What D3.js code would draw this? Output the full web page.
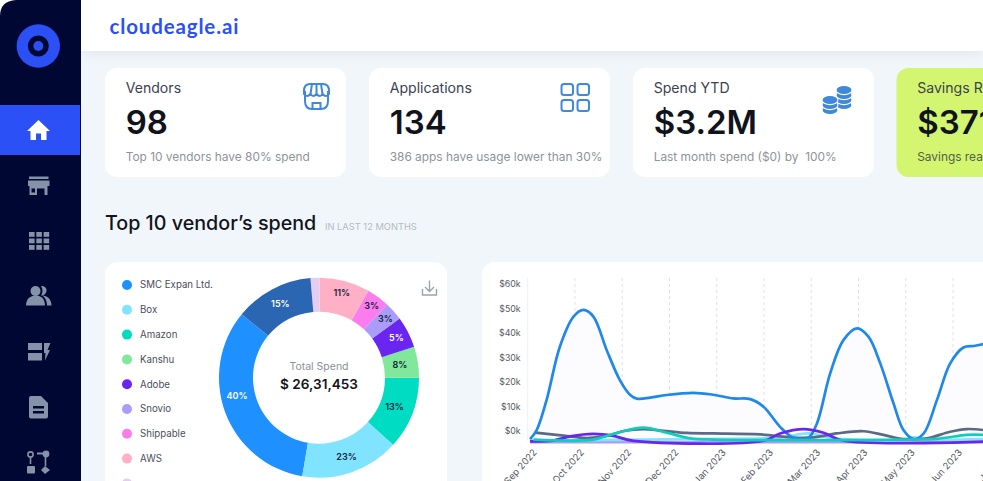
<!DOCTYPE html>
<html>
<head>
<meta charset="utf-8">
<script src="https://cdn.jsdelivr.net/npm/d3@7"></script>
<style>
  html, body { margin: 0; padding: 0; background: #fff; overflow: hidden; }
  svg { display: block; }
  text { font-family: Inter, "Noto Sans", sans-serif; }
</style>
</head>
<body>
<div id="chart"></div>
<script>
// Donut data
const vendorNames = ["SMC Expan Ltd.", "Box", "Amazon", "Kanshu", "Adobe", "Snovio", "Shippable", "AWS"];
const sliceShares = [33.3, 16, 11.7, 5, 5.1, 3, 3.7, 8.1, 1.5, 12.7];
const sliceLabels = ["40%", "23%", "13%", "8%", "5%", "3%", "3%", "11%", "", "15%"];
const sliceColors = ["#1e90ff", "#80e3ff", "#00dcc2", "#7fe89b", "#6a26f0", "#aa9cfa", "#fb7ced", "#ffb0c6", "#e4cdf0", "#2b66b3"];
const sliceTextColors = ["#fff", "#12233a", "#12233a", "#12233a", "#fff", "#12233a", "#12233a", "#12233a", "#12233a", "#fff"];

// Line chart data, x is position in months since Sep 2022
const monthLabels = ["Sep 2022", "Oct 2022", "Nov 2022", "Dec 2022", "Jan 2023", "Feb 2023", "Mar 2023", "Apr 2023", "May 2023", "Jun 2023", "Jul 2023"];
const yTicks = [0, 10000, 20000, 30000, 40000, 50000, 60000];
const blueX = [0.05, 0.19, 0.40, 0.68, 0.97, 1.18, 1.39, 1.67, 1.95, 2.17, 2.31, 2.59, 2.94, 3.51, 3.93, 4.35, 4.71, 4.99, 5.34, 5.62, 5.94, 6.12, 6.40, 6.68, 6.97, 7.21, 7.46, 7.74, 7.95, 8.17, 8.38, 8.66, 8.94, 9.22, 9.44, 9.64];
const blueY = [-3300, 400, 12700, 34400, 46700, 49400, 46700, 33100, 20800, 14700, 13200, 13600, 14700, 15600, 14800, 13300, 13000, 9900, 1700, -2700, -2700, 3100, 23500, 37100, 41900, 38500, 27600, 11300, 400, -3300, -1000, 12700, 27600, 34100, 34700, 35500];
const grayX = [0.16, 0.76, 1.25, 1.67, 2.03, 2.45, 2.87, 3.37, 3.93, 4.92, 5.62, 6.05, 6.54, 7.11, 7.53, 7.95, 8.45, 8.94, 9.29, 9.64];
const grayY = [-700, -1900, -2900, -2000, 0, 800, 100, -800, -1000, -1400, -2700, -2600, -1000, -100, -1600, -3300, -3000, -300, 800, 400];
const purpleX = [0.05, 0.54, 0.90, 1.39, 1.81, 2.24, 4.99, 5.34, 5.84, 6.26, 6.68, 9.64];
const purpleY = [-4200, -3900, -2200, -1200, -2000, -4000, -4000, -1000, 800, -700, -4000, -4300];
const tealX = [0.12, 1.39, 1.81, 2.45, 2.94, 3.44, 3.93, 7.95, 8.66, 9.29, 9.64];
const tealY = [-3500, -3500, -1200, 1400, -700, -3000, -3500, -3500, -3200, -1600, -1600];
const cyanX = [0.05, 3.44, 5.34, 5.94, 6.5, 7.95, 8.17, 8.4, 9.64];
const cyanY = [-3900, -3300, -2700, -1000, -3100, -3500, -2600, -3400, -3300];
const flatX = [0.05, 9.64];
const flatY = [-4500, -4500];

const svg = d3.select("#chart").append("svg")
    .attr("width", 983)
    .attr("height", 481);

// Background and frame
svg.append("rect").attr("x", 81).attr("y", 0).attr("width", 902).attr("height", 481).attr("fill", "#f1f6fa");
svg.append("rect").attr("x", 81).attr("y", 0).attr("width", 902).attr("height", 51)
    .attr("fill", "#fff").style("filter", "drop-shadow(0 3px 6px rgba(40,60,90,0.08))");
svg.append("path").attr("d", "M0,481V16Q0,1 16,0H81V481Z").attr("fill", "#000733");
svg.append("rect").attr("x", 0).attr("y", 105).attr("width", 80).attr("height", 50).attr("fill", "#2b50f5");

// Logo
svg.append("circle").attr("cx", 38.3).attr("cy", 46).attr("r", 21.7).attr("fill", "#2b50f5");
svg.append("circle").attr("cx", 38.3).attr("cy", 46).attr("r", 10.5).attr("fill", "#000733");
svg.append("circle").attr("cx", 38.3).attr("cy", 46).attr("r", 5).attr("fill", "#2b50f5");
svg.append("text").attr("x", 109.5).attr("y", 33.5).text("cloudeagle.ai")
    .style("font-family", "Lato").style("font-size", "20.5px").style("font-weight", 700)
    .style("letter-spacing", "0.85px").attr("fill", "#2b50f5");

// Side menu icons
const navColor = "#8493a8";
const nav = svg.append("g").attr("fill", navColor);
nav.append("path").attr("fill", "#fff").attr("d", "M38.5,120L50,131H46.5V140H41V133.5H36V140H30.5V131H27Z");
nav.append("path").attr("d", "M29,176.5H48.5V179H29ZM28,180.5H49.5L49.5,186H47.5V195H44.5V188.5H37V195H29.5V186H28ZM31.5,188.5H35V192.5H31.5Z").attr("fill-rule", "evenodd");
d3.range(9).forEach(i => nav.append("rect")
    .attr("x", 29 + (i % 3) * 7.3).attr("y", 232 + Math.floor(i / 3) * 6.5)
    .attr("width", 5.6).attr("height", 4.8));
nav.append("path").attr("d", "M26,305.5C26,297 33,295.5 35.5,295.5C39,295.5 45,297 45,305.5ZM47,305.5C47,301 45,297.5 42.5,295.5C47,295.5 51.5,299 51.5,305.5Z");
nav.append("circle").attr("cx", 35.5).attr("cy", 291).attr("r", 5);
nav.append("path").attr("d", "M41,286C44.5,285.5 47,288 46.5,291C46,294 43.5,296 41,295.5C43,293 43,288.5 41,286Z");
nav.append("path").attr("d", "M28,343H42V350H28ZM28,353H42V360.5H28ZM44,343H50.5L47.5,350H50L45,360.5L45.5,353H44Z");
nav.append("path").attr("d", "M31,396H41L48,403V416.5Q48,418.5 46,418.5H31Q29,418.5 29,416.5V398Q29,396 31,396ZM33,406V408.5H44V406ZM33,411V413.5H44V411Z").attr("fill-rule", "evenodd");
nav.append("path").attr("d", "M37,453.5H43").attr("stroke", navColor).attr("stroke-width", 2);
nav.append("circle").attr("cx", 30.5).attr("cy", 454.5).attr("r", 2.6).attr("fill", "none").attr("stroke", navColor).attr("stroke-width", 1.6);
nav.append("path").attr("d", "M30.5,457.5V464").attr("stroke", navColor).attr("stroke-width", 1.6);
nav.append("circle").attr("cx", 46).attr("cy", 454).attr("r", 3.4);
nav.append("rect").attr("x", 27).attr("y", 466).attr("width", 8).attr("height", 7.5).attr("rx", 1);
nav.append("path").attr("d", "M45,466L50,470L45,474L41,470Z");
nav.append("path").attr("d", "M45.5,457V466").attr("stroke", navColor).attr("stroke-width", 1.6);

// Stat cards
const cards = [
  { x: 105, w: 241, title: "Vendors", value: "98", note: "Top 10 vendors have 80% spend", fill: "#fff" },
  { x: 369, w: 241, title: "Applications", value: "134", note: "386 apps have usage lower than 30%", fill: "#fff" },
  { x: 633, w: 241, title: "Spend YTD", value: "$3.2M", note: "Last month spend ($0) by  100%", fill: "#fff" },
  { x: 896.5, w: 200, title: "Savings Realized", value: "$371K", note: "Savings realized", fill: "#d3f56f" }
];
cards.forEach(c => {
  svg.append("rect").attr("x", c.x).attr("y", 68).attr("width", c.w).attr("height", 109).attr("rx", 12).attr("fill", c.fill);
  const noteColor = c.fill === "#fff" ? "#8e939b" : "#56604a";
  svg.append("text").attr("x", c.x + 20.7).attr("y", 93).text(c.title)
      .style("font-size", "14.1px").attr("fill", "#3d4250");
  svg.append("text").attr("x", c.x + 20.7).attr("y", 134).text(c.value)
      .style("font-size", "33px").style("font-weight", 600).attr("fill", "#10131c");
  svg.append("text").attr("x", c.x + 20.7).attr("y", 161).text(c.note)
      .style("font-size", "11.9px").attr("fill", noteColor).attr("xml:space", "preserve");
});

// Card icons
const iconBlue = "#3f88dc";
const icons = svg.append("g").attr("fill", "none").attr("stroke", iconBlue).attr("stroke-width", 2);
icons.append("path").attr("d", "M305,91V101Q305,109 312,109H321Q328,109 328,101V91");
icons.append("path").attr("d", "M304,91Q304,84 310,84H323Q329,84 329,91V94Q326,98 322.5,94Q320,98 316.5,94Q313,98 310.5,94Q307,98 304,94Z");
icons.append("path").attr("d", "M312,84L310.5,94M321,84L322.5,94M316.5,84V94M312.5,109V103H320.5V109");
[0, 16].forEach(dx => [0, 16].forEach(dy => icons.append("rect")
    .attr("x", 561.5 + dx).attr("y", 84 + dy).attr("width", 11.5).attr("height", 11).attr("rx", 2.5)));
// Coin stacks, drawn bottom coin first so each one overlaps the coin below
[[844, 105], [844, 100], [844, 95], [844, 90], [830, 110], [830, 105], [830, 100]].forEach(p => icons.append("ellipse")
    .attr("cx", p[0]).attr("cy", p[1]).attr("rx", 8).attr("ry", 4.6)
    .attr("fill", iconBlue).attr("stroke", "#fff").attr("stroke-width", 1.1));

// Section heading
svg.append("text").attr("x", 105).attr("y", 230).text("Top 10 vendor’s spend")
    .style("font-size", "19.7px").style("font-weight", 500).attr("fill", "#12141c");
svg.append("text").attr("x", 325).attr("y", 230).text("IN LAST 12 MONTHS")
    .style("font-size", "9.3px").attr("fill", "#b5bac2");

// Chart cards
svg.append("rect").attr("x", 105).attr("y", 262).attr("width", 342).attr("height", 240).attr("rx", 13).attr("fill", "#fff");
svg.append("rect").attr("x", 482).attr("y", 262).attr("width", 540).attr("height", 240).attr("rx", 13).attr("fill", "#fff");

// Legend
const legend = svg.selectAll(".legend-item")
  .data(vendorNames.concat([""]))
  .enter().append("g")
    .attr("class", "legend-item")
    .attr("transform", (d, i) => `translate(127,${285 + i * 24.8})`);
legend.append("circle").attr("r", 5).attr("fill", (d, i) => i < 8 ? sliceColors[i] : "#e4cdf0");
legend.append("text").attr("x", 13).attr("y", 3.3).text(d => d)
    .style("font-size", "9.7px").attr("fill", "#4a4f5c");

// Donut, running counter-clockwise from the top-left edge of the first slice
const startAngle = -50.6 * Math.PI / 180;
const pie = d3.pie().sort(null).startAngle(startAngle).endAngle(startAngle - 2 * Math.PI);
const arc = d3.arc().innerRadius(66).outerRadius(100);
const donut = svg.append("g").attr("transform", "translate(319,377.7)");
const slices = donut.selectAll(".slice")
  .data(pie(sliceShares))
  .enter().append("g")
    .attr("class", "slice");
slices.append("path").attr("d", arc).attr("fill", (d, i) => sliceColors[i]);

// The labels do not sit exactly on the slice centres in the original
const labelRadius = [84, 84, 81, 82, 87, 89, 89, 88, 83, 83];
const labelAngleShift = [8, 0, 0, 0, 0, 0, 0, 0, 0, 0];
slices.append("text")
    .attr("transform", (d, i) => {
      const a = (d.startAngle + d.endAngle) / 2 + labelAngleShift[i] * Math.PI / 180;
      return `translate(${labelRadius[i] * Math.sin(a)},${-labelRadius[i] * Math.cos(a)})`;
    })
    .attr("text-anchor", "middle").attr("dy", "0.35em")
    .text((d, i) => sliceLabels[i])
    .style("font-size", "9px").style("font-weight", 600)
    .attr("fill", (d, i) => sliceTextColors[i]);
donut.append("text").attr("text-anchor", "middle").attr("y", -8).text("Total Spend")
    .style("font-size", "10.5px").attr("fill", "#8b9098");
donut.append("text").attr("text-anchor", "middle").attr("y", 11.5).text("$ 26,31,453")
    .style("font-size", "13.6px").style("font-weight", 600).attr("fill", "#12141c");

// Download icon
svg.append("path").attr("fill", "none").attr("stroke", "#9aa3ad").attr("stroke-width", 1.4)
    .attr("d", "M429.5,280.5V291M425,287L429.5,291.5L434,287M422.5,289V295H436.5V289");

// Line chart
const x = d3.scaleLinear().domain([0, 10]).range([527.7, 1000.3]);
const y = d3.scaleLinear().domain([-4000, 60000]).range([440.8, 284]);
const chartTop = 278;

svg.append("line").attr("x1", x(0)).attr("x2", x(0)).attr("y1", chartTop).attr("y2", y(-4000)).attr("stroke", "#eef0f3");
svg.selectAll(".grid")
  .data(d3.range(1, 11))
  .enter().append("line")
    .attr("class", "grid")
    .attr("x1", d => x(d)).attr("x2", d => x(d))
    .attr("y1", chartTop).attr("y2", y(-4000))
    .attr("stroke", "#dfe2e6").attr("stroke-dasharray", "3 3");

const yAxis = svg.append("g")
    .attr("transform", `translate(${x(0)},0)`)
    .call(d3.axisLeft(y).tickValues(yTicks).tickSize(0).tickPadding(7).tickFormat(d => "$" + d / 1000 + "k"));
yAxis.select(".domain").remove();
yAxis.selectAll("text").style("font-family", "Inter").style("font-size", "8.8px").attr("fill", "#555a64");

const xAxis = svg.append("g")
    .attr("transform", `translate(0,${y(-4000)})`)
    .call(d3.axisBottom(x).tickValues(d3.range(0, 11)).tickSize(0).tickFormat(d => monthLabels[d]));
xAxis.select(".domain").remove();
xAxis.selectAll("text")
    .style("font-family", "Inter").style("font-size", "9.5px").attr("fill", "#555a64")
    .attr("text-anchor", "end")
    .attr("dy", 0)
    .attr("transform", "translate(7,10) rotate(-48)");

const line = d3.line().curve(d3.curveCatmullRom.alpha(0.5)).x(d => x(d[0])).y(d => y(d[1]));
const area = d3.area().curve(d3.curveCatmullRom.alpha(0.5)).x(d => x(d[0])).y0(y(-4000)).y1(d => y(d[1]));
const bluePoints = d3.zip(blueX, blueY);

svg.append("path").datum(bluePoints).attr("d", area).attr("fill", "#fcfcff");

const series = [
  { xs: flatX, ys: flatY, color: "#aa9cfa" },
  { xs: cyanX, ys: cyanY, color: "#80e3ff" },
  { xs: grayX, ys: grayY, color: "#5c6a86" },
  { xs: blueX, ys: blueY, color: "#1f88e8" },
  { xs: purpleX, ys: purpleY, color: "#6a26f0" },
  { xs: tealX, ys: tealY, color: "#10cdbb" }
];
series.forEach(s => {
  svg.append("path")
      .datum(d3.zip(s.xs, s.ys))
      .attr("fill", "none")
      .attr("stroke", s.color)
      .attr("stroke-width", 2.7)
      .attr("d", line);
});
</script>
</body>
</html>
